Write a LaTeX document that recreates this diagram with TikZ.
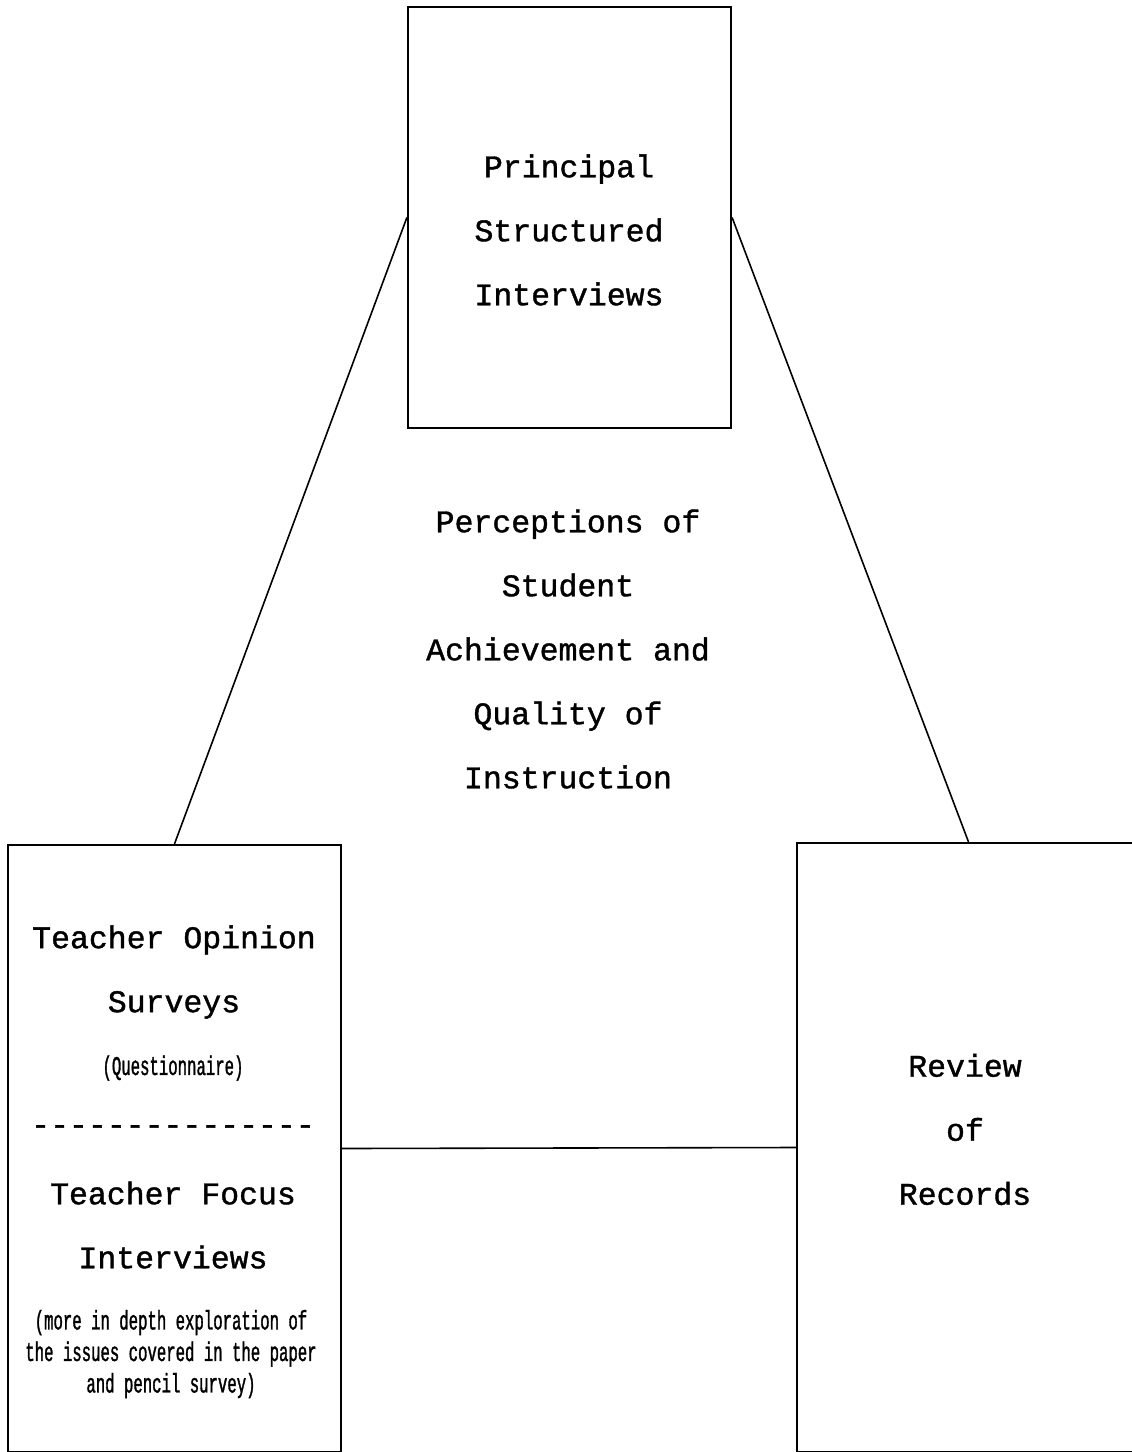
\documentclass[tikz,border=0pt]{standalone}
\usepackage{fontspec}
\usepackage{tikz}
\newfontfamily\courier[FakeBold=1.2]{Liberation Mono}
\newfontfamily\narrowmono[FakeStretch=0.58, FakeBold=1.2]{Liberation Mono}

\begin{document}
\begin{tikzpicture}[x=0.5pt, y=-0.5pt]
      \tikzstyle{box} = [draw, rectangle, line width=1.1pt, inner sep=0pt]
      \tikzstyle{txt} = [align=center, inner sep=0pt,
                         font=\courier\fontsize{15.75}{32}\selectfont]
      \tikzstyle{note} = [align=center, inner sep=0pt,
                          font=\narrowmono\fontsize{13.5}{15.75}\selectfont]
      \tikzstyle{link} = [line width=0.8pt]

      \useasboundingbox (0,0) rectangle (1131,1452);

      % the three sources
      \node[box, minimum width=161.5pt, minimum height=210.5pt] (princ) at (569.5,217.5) {};
      \node[box, minimum width=166.5pt, minimum height=303.5pt] (teach) at (174.5,1148.5) {};
      \node[box, minimum width=171.5pt, minimum height=304.5pt] (rec) at (968.5,1147.5) {};

      \node[txt] (princtxt) at (569,230) {Principal\\Structured\\Interviews};
      \node[txt] (center) at (568,649) {Perceptions of\\Student\\Achievement and\\Quality of\\Instruction};

      \node[txt] (survey) at (174,972) {Teacher Opinion\\Surveys};
      \node[note] (quest) at (173,1068) {(Questionnaire)};
      \node[txt] (dashes) at (173,1130) {---------------};
      \node[txt] (focus) at (173,1225) {Teacher Focus\\Interviews};
      \node[note] (depth) at (171,1354) {(more in depth exploration of\\the issues covered in the paper\\and pencil survey)};

      \node[txt] (rectxt) at (965,1129.5) {Review\\of\\Records};

      % triangle
      \draw[link] (princ.west) -- (teach.north);
      \draw[link] (princ.east) -- (rec.north);
      \draw[link] (teach.east) -- (rec.west);
\end{tikzpicture}
\end{document}
